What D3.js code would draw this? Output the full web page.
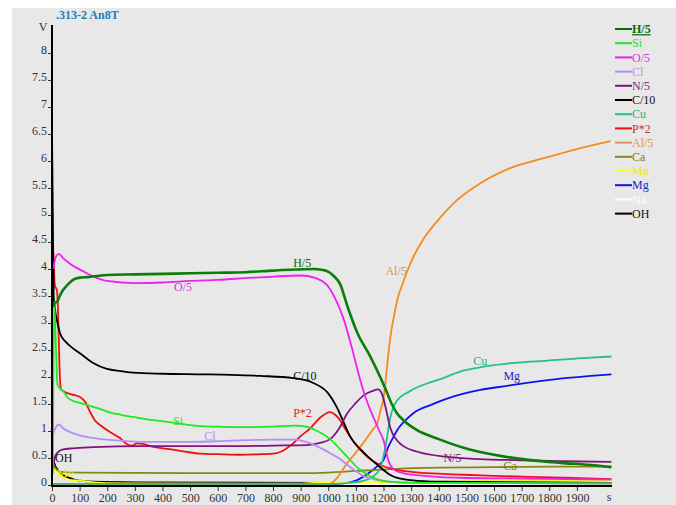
<!DOCTYPE html>
<html>
<head>
<meta charset="utf-8">
<script src="https://cdn.jsdelivr.net/npm/d3@7"></script>
<style>
  html, body { margin: 0; padding: 0; background: #ffffff; }
  svg { display: block; }
  svg text { font-family: "Liberation Serif", "Times New Roman", "DejaVu Serif", serif; }
</style>
</head>
<body>
<svg id="chart" width="676" height="505"></svg>
<script>
// Depth profile (GDOES-style): element signals in V against sputter time in s.
const chartTitle = ".313-2 An8T";
const yTicks = [0, 0.5, 1, 1.5, 2, 2.5, 3, 3.5, 4, 4.5, 5, 5.5, 6, 6.5, 7, 7.5, 8];
const xTicks = [0, 100, 200, 300, 400, 500, 600, 700, 800, 900, 1000,
                1100, 1200, 1300, 1400, 1500, 1600, 1700, 1800, 1900];

const seriesNames = ["H/5", "Si", "O/5", "Cl", "N/5", "C/10", "Cu", "P*2", "Al/5", "Ca", "Mn", "Mg", "Na", "OH"];

// [time s, signal V]
const h5 = [[5,3.3],[12,3.38],[18,3.39],[28,3.5],[40,3.61],[55,3.7],[76,3.8],[101,3.84],[127,3.85],[160,3.87],[199,3.89],[300,3.9],[400,3.91],[500,3.92],[600,3.93],[700,3.94],[800,3.97],[880,3.99],[950,4.0],[990,3.97],[1020,3.87],[1043,3.72],[1070,3.3],[1105,2.82],[1150,2.4],[1188,2.0],[1207,1.78],[1230,1.5],[1250,1.32],[1272,1.2],[1320,1.02],[1400,0.85],[1490,0.69],[1600,0.56],[1732,0.46],[1840,0.41],[1950,0.37],[2025,0.33]];
const si = [[3,0.2],[8,3.4],[14,2.6],[20,1.85],[30,1.78],[47,1.7],[54,1.63],[80,1.55],[101,1.52],[140,1.46],[174,1.41],[199,1.36],[250,1.3],[294,1.26],[350,1.21],[417,1.17],[500,1.11],[536,1.09],[600,1.08],[700,1.07],[800,1.08],[880,1.1],[920,1.08],[960,1.0],[1007,0.85],[1040,0.68],[1080,0.46],[1110,0.3],[1127,0.24],[1160,0.14],[1188,0.09],[1250,0.05],[1400,0.04],[2025,0.03]];
const o5 = [[5,4.0],[12,4.2],[25,4.28],[40,4.2],[70,4.08],[112,3.96],[150,3.86],[199,3.78],[300,3.74],[400,3.75],[500,3.78],[600,3.8],[700,3.83],[800,3.86],[900,3.88],[950,3.84],[996,3.7],[1030,3.4],[1054,3.1],[1085,2.55],[1116,1.94],[1140,1.55],[1163,1.26],[1185,1.0],[1200,0.83],[1217,0.46],[1235,0.3],[1270,0.22],[1350,0.17],[1500,0.13],[1700,0.12],[2025,0.1]];
const cl = [[4,0.95],[12,1.05],[25,1.12],[40,1.05],[70,0.97],[100,0.92],[150,0.87],[200,0.84],[250,0.82],[319,0.8],[400,0.8],[500,0.8],[600,0.81],[700,0.83],[800,0.84],[880,0.84],[930,0.78],[982,0.66],[1010,0.58],[1043,0.48],[1080,0.33],[1127,0.17],[1170,0.1],[1220,0.06],[1300,0.04],[2025,0.03]];
const n5 = [[3,0.3],[10,0.5],[20,0.6],[40,0.66],[76,0.68],[150,0.7],[319,0.72],[500,0.72],[681,0.72],[800,0.73],[923,0.74],[970,0.78],[1007,0.85],[1040,1.05],[1068,1.32],[1100,1.52],[1128,1.66],[1160,1.74],[1180,1.77],[1195,1.68],[1207,1.45],[1225,1.05],[1250,0.82],[1272,0.72],[1320,0.62],[1431,0.52],[1550,0.48],[1671,0.46],[1850,0.44],[2025,0.43]];
const c10 = [[0,6.5],[3,5.0],[6,3.5],[11,3.25],[20,3.0],[29,2.81],[50,2.65],[76,2.53],[101,2.44],[149,2.26],[199,2.15],[250,2.11],[294,2.08],[400,2.06],[536,2.05],[650,2.04],[754,2.02],[873,1.98],[946,1.89],[996,1.72],[1033,1.42],[1061,1.1],[1080,0.89],[1127,0.61],[1160,0.45],[1188,0.33],[1220,0.2],[1250,0.13],[1300,0.09],[1400,0.06],[2025,0.04]];
const cu = [[0,0.02],[1000,0.02],[1080,0.04],[1130,0.08],[1160,0.15],[1188,0.31],[1207,0.7],[1225,1.26],[1250,1.57],[1290,1.72],[1322,1.81],[1358,1.88],[1406,1.96],[1478,2.1],[1540,2.17],[1599,2.22],[1720,2.28],[1840,2.32],[1950,2.36],[2025,2.38]];
const p2 = [[0,0.2],[2,4.45],[6,4.2],[10,3.7],[18,3.6],[22,3.2],[27,2.2],[32,1.78],[40,1.74],[70,1.68],[101,1.63],[120,1.54],[138,1.35],[155,1.2],[174,1.11],[210,0.98],[246,0.87],[270,0.76],[290,0.73],[308,0.77],[330,0.76],[355,0.72],[417,0.67],[480,0.62],[536,0.58],[600,0.57],[681,0.56],[760,0.57],[802,0.58],[830,0.62],[850,0.68],[875,0.78],[899,0.9],[935,1.05],[971,1.25],[1007,1.35],[1025,1.3],[1043,1.2],[1060,1.05],[1080,0.89],[1100,0.75],[1127,0.59],[1160,0.45],[1188,0.37],[1230,0.3],[1308,0.24],[1400,0.21],[1490,0.19],[1600,0.17],[1732,0.15],[1880,0.13],[2025,0.11]];
const al5 = [[0,0.01],[1000,0.01],[1030,0.12],[1068,0.4],[1100,0.6],[1127,0.78],[1160,1.02],[1178,1.15],[1190,1.4],[1200,1.6],[1207,1.9],[1215,2.3],[1225,2.74],[1240,3.18],[1250,3.43],[1270,3.74],[1297,4.1],[1344,4.55],[1400,4.92],[1467,5.28],[1551,5.59],[1670,5.89],[1793,6.07],[1913,6.24],[2022,6.37]];
const ca = [[2,0.4],[10,0.33],[20,0.27],[40,0.24],[100,0.23],[500,0.22],[900,0.22],[1000,0.23],[1100,0.26],[1250,0.3],[1400,0.32],[1600,0.33],[1800,0.34],[2025,0.34]];
const mn = [[2,0.05],[8,0.3],[20,0.25],[35,0.15],[60,0.1],[100,0.08],[150,0.05],[250,0.03],[900,0.02],[950,0.04],[1000,0.04],[1200,0.05],[1400,0.06],[1650,0.08],[2025,0.09]];
const mg = [[0,0.02],[1000,0.02],[1054,0.03],[1100,0.08],[1152,0.24],[1180,0.36],[1200,0.46],[1217,0.7],[1235,0.88],[1250,1.02],[1280,1.2],[1308,1.33],[1370,1.48],[1430,1.6],[1490,1.69],[1550,1.76],[1612,1.81],[1732,1.9],[1840,1.97],[1950,2.02],[2025,2.05]];
const na = [[0,0.02],[2025,0.03]];
const oh = [[0,0.5],[5,0.45],[12,0.35],[22,0.28],[35,0.2],[54,0.15],[80,0.1],[101,0.08],[150,0.06],[300,0.05],[1000,0.04],[2025,0.03]];

const seriesValues = [h5, si, o5, cl, n5, c10, cu, p2, al5, ca, mn, mg, na, oh];

// in-plot annotations: [series name, time, signal]
const curveLabels = [
  ["H/5", 873, 4.04], ["O/5", 442, 3.59], ["Si", 438, 1.11], ["Cl", 551, 0.83],
  ["OH", 11, 0.43], ["Mn", 18, 0.15], ["C/10", 873, 1.94], ["P*2", 873, 1.26],
  ["Al/5", 1207, 3.89], ["Cu", 1525, 2.22], ["Mg", 1634, 1.94], ["N/5", 1417, 0.43],
  ["Ca", 1634, 0.28]
];

const lineColor = {
  "H/5": "#0a7d0a", "Si": "#22e822", "O/5": "#f020f0", "Cl": "#b68cf8", "N/5": "#7d157d",
  "C/10": "#000000", "Cu": "#22c08e", "P*2": "#f01010", "Al/5": "#f78a1e", "Ca": "#86861a",
  "Mn": "#ffff20", "Mg": "#1010f0", "Na": "#ffffff", "OH": "#000000"
};
const keyLineColor = Object.assign({}, lineColor, { "H/5": "#0a6a0a", "Al/5": "#d8955a" });
const textColor = {
  "H/5": "#0a6a0a", "Si": "#3ad83a", "O/5": "#e030e0", "Cl": "#b990f5", "N/5": "#7a2a7a",
  "C/10": "#111111", "Cu": "#22b07e", "P*2": "#d82828", "Al/5": "#e0944a", "Ca": "#7a7a18",
  "Mn": "#eaea10", "Mg": "#2525c0", "Na": "#ffffff", "OH": "#111111"
};

const serif = "'Liberation Serif', 'Times New Roman', serif";
const svg = d3.select("#chart").attr("font-family", serif);

// grey plot panel
svg.append("rect").attr("x", 12).attr("y", 8).attr("width", 664).attr("height", 497)
  .attr("fill", "#e8e8e8");

const x = d3.scaleLinear().domain([0, 2000]).range([52, 604.5]);
const y = d3.scaleLinear().domain([0, 8]).range([485, 53]);

const line = d3.line().x(d => x(d[0])).y(d => y(d[1])).curve(d3.curveMonotoneX);

// series: drawn so that H/5 ends up on top
const order = d3.range(seriesNames.length).reverse();
svg.append("g").selectAll("path").data(order).join("path")
  .attr("d", i => line(seriesValues[i]))
  .attr("fill", "none")
  .attr("stroke", i => lineColor[seriesNames[i]])
  .attr("stroke-width", i => seriesNames[i] === "H/5" ? 2.6 : 1.8)
  .attr("stroke-linejoin", "round");

// axes
const yAxis = svg.append("g").attr("transform", "translate(52,0)")
  .call(d3.axisLeft(y).tickValues(yTicks).tickFormat(d3.format("")).tickSize(4).tickPadding(1))
  .attr("font-family", serif);
yAxis.select(".domain").remove();
yAxis.selectAll("text").attr("dy", "0.05em").attr("font-size", 12).attr("fill", "#333");
yAxis.selectAll("line").attr("stroke", "#333");

const xAxis = svg.append("g").attr("transform", "translate(0,486)")
  .call(d3.axisBottom(x).tickValues(xTicks).tickFormat(d3.format("")).tickSize(5).tickPadding(2))
  .attr("font-family", serif);
xAxis.select(".domain").remove();
xAxis.selectAll("text").attr("font-size", 12).attr("fill", "#333");
xAxis.selectAll("line").attr("stroke", "#333");

svg.append("line").attr("x1", 52).attr("x2", 52).attr("y1", 25).attr("y2", 487)
  .attr("stroke", "#000").attr("stroke-width", 2);
svg.append("line").attr("x1", 51).attr("x2", 612).attr("y1", 486).attr("y2", 486)
  .attr("stroke", "#000").attr("stroke-width", 2);

svg.append("text").attr("x", 43).attr("y", 31).attr("font-size", 12).attr("fill", "#333")
  .attr("text-anchor", "middle").text("V");
svg.append("text").attr("x", 609).attr("y", 501).attr("font-size", 12).attr("fill", "#333")
  .attr("text-anchor", "middle").text("s");

// title
svg.append("text").attr("x", 56).attr("y", 19).attr("font-size", 12).attr("font-weight", "bold")
  .attr("fill", "#1c80b8").text(chartTitle);

// annotations along the curves
svg.append("g").selectAll("text").data(curveLabels).join("text")
  .attr("x", d => x(d[1])).attr("y", d => y(d[2]))
  .attr("font-size", 12)
  .attr("fill", d => textColor[d[0]])
  .text(d => d[0]);

// key
const key = svg.append("g");
seriesNames.forEach((name, i) => {
  const ky = 29 + i * 14.2;
  key.append("line").attr("x1", 615).attr("x2", 632).attr("y1", ky).attr("y2", ky)
    .attr("stroke", keyLineColor[name]).attr("stroke-width", 2);
  const t = key.append("text").attr("x", 632).attr("y", ky).attr("dy", "0.35em")
    .attr("font-size", 12).attr("fill", textColor[name]).text(name);
  if (name === "H/5") t.attr("font-weight", "bold").attr("text-decoration", "underline");
});
</script>
</body>
</html>
